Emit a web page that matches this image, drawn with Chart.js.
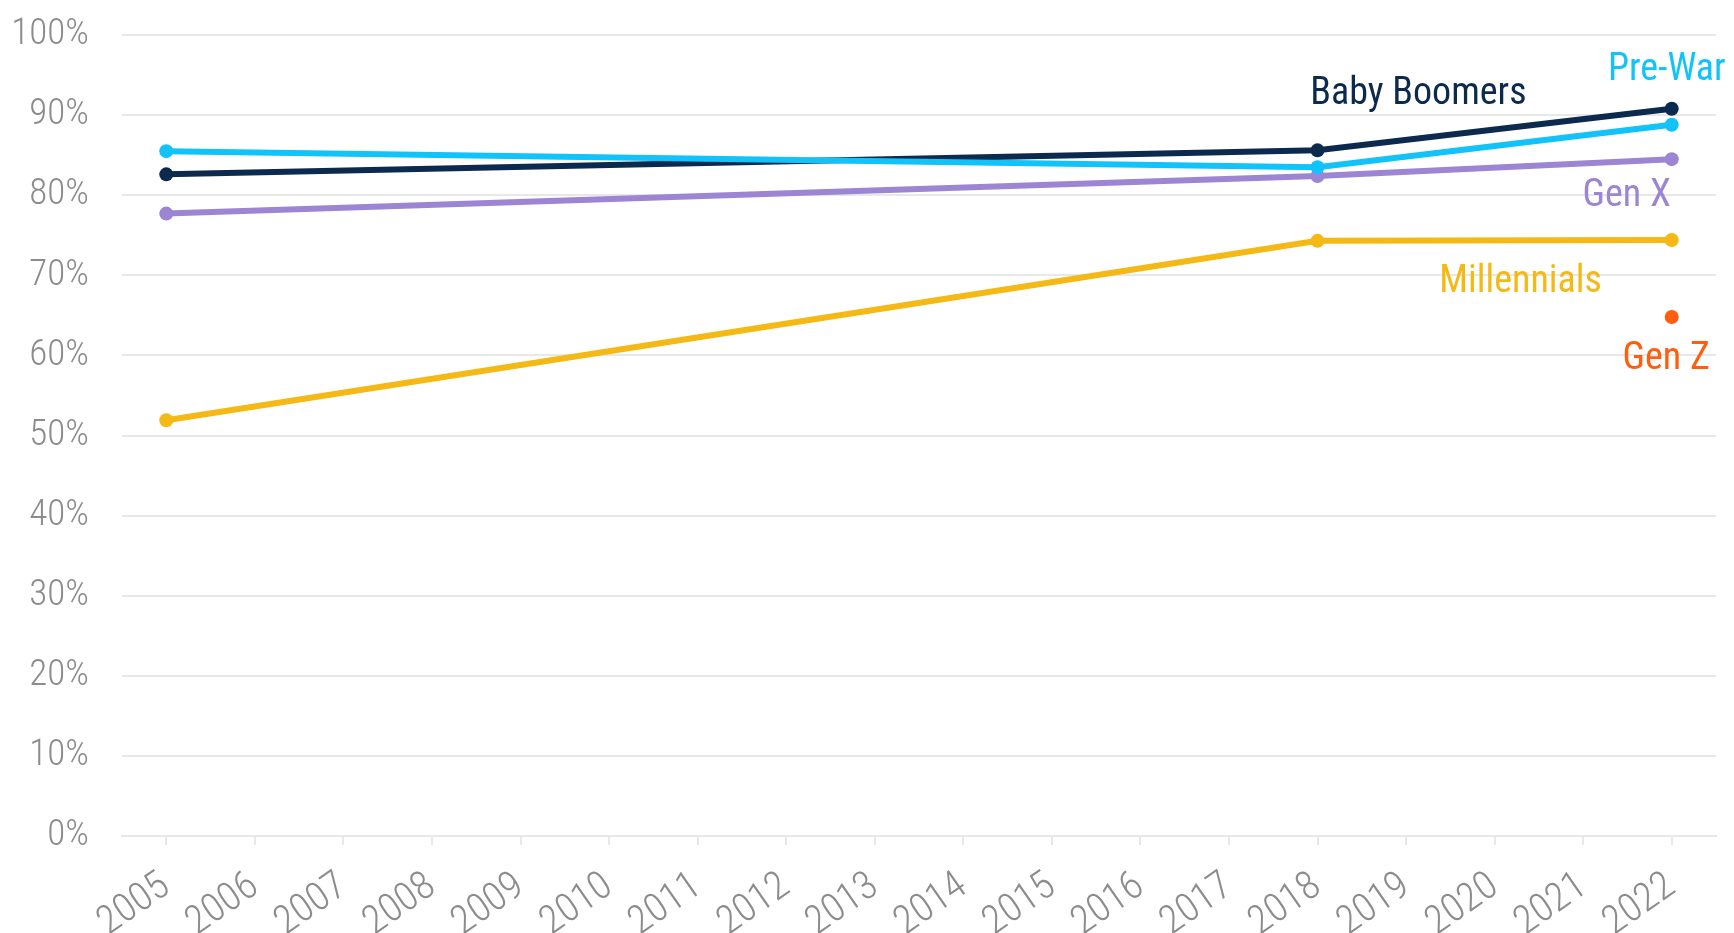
<!DOCTYPE html>
<html>
<head>
<meta charset="utf-8">
<script src="https://cdn.jsdelivr.net/npm/chart.js@4/dist/chart.umd.min.js"></script>
<style>
	html, body { margin: 0; padding: 0; background: #fff; }
	#wrap { width: 1734px; height: 933px; position: relative; }
</style>
</head>
<body>
<div id="wrap"><canvas id="myChart"></canvas></div>
<script>
const years = ['2005','2006','2007','2008','2009','2010','2011','2012','2013','2014','2015','2016','2017','2018','2019','2020','2021','2022'];

// survey years only: 2005, 2018, 2022
const preWar      = [85.5, null, null, null, null, null, null, null, null, null, null, null, null, 83.5, null, null, null, 88.8];
const babyBoomers = [82.6, null, null, null, null, null, null, null, null, null, null, null, null, 85.6, null, null, null, 90.8];
const genX        = [77.7, null, null, null, null, null, null, null, null, null, null, null, null, 82.4, null, null, null, 84.5];
const millennials = [51.9, null, null, null, null, null, null, null, null, null, null, null, null, 74.3, null, null, null, 74.4];
const genZ        = [null, null, null, null, null, null, null, null, null, null, null, null, null, null, null, null, null, 64.8];

const yTicks = [0, 10, 20, 30, 40, 50, 60, 70, 80, 90, 100];

// series name labels, placed in data space: [text, color, x index, y value, align]
const seriesLabels = [
	['Baby Boomers', '#0c2a4e', 15.36, 91.4, 'right'],
	['Pre-War',      '#12c3fa', 16.28, 94.35, 'left'],
	['Gen X',        '#9c85d3', 16.99, 78.6, 'right'],
	['Millennials',  '#f4b915', 16.21, 67.9, 'right'],
	['Gen Z',        '#ff5e0e', 17.43, 58.3, 'right']
];

const FONT = "'Roboto Condensed', 'DejaVu Sans Condensed', sans-serif";
const GRID = '#e8e8e8';
const TICK = '#8c8c8c';

function line(label, data, color, order) {
	return {
		label: label,
		data: data,
		borderColor: color,
		backgroundColor: color,
		borderWidth: 6,
		pointRadius: 7,
		pointHoverRadius: 7,
		pointBorderWidth: 0,
		spanGaps: true,
		tension: 0,
		order: order
	};
}

const labelPlugin = {
	id: 'seriesLabels',
	afterDatasetsDraw(chart) {
		const ctx = chart.ctx;
		const xs = chart.scales.x;
		const ys = chart.scales.y;
		ctx.save();
		ctx.font = '38px ' + FONT;
		ctx.textBaseline = 'alphabetic';
		seriesLabels.forEach(l => {
			const x0 = xs.getPixelForValue(0);
			const step = xs.getPixelForValue(1) - x0;
			ctx.fillStyle = l[1];
			ctx.textAlign = l[4];
			ctx.fillText(l[0], x0 + l[2] * step, ys.getPixelForValue(l[3]));
		});
		ctx.restore();
	}
};

const ctx = document.getElementById('myChart').getContext('2d');
const myChart = new Chart(ctx, {
	type: 'line',
	data: {
		labels: years,
		datasets: [
			line('Pre-War', preWar, '#12c3fa', 1),
			line('Baby Boomers', babyBoomers, '#0c2a4e', 2),
			line('Gen X', genX, '#9c85d3', 3),
			line('Millennials', millennials, '#f4b915', 4),
			line('Gen Z', genZ, '#ff5e0e', 0)
		]
	},
	options: {
		responsive: true,
		maintainAspectRatio: false,
		animation: false,
		layout: { padding: { top: 35, right: 18, left: 0, bottom: 0 } },
		plugins: {
			legend: { display: false },
			tooltip: { enabled: false }
		},
		scales: {
			x: {
				offset: true,
				grid: {
					offset: false,
					drawOnChartArea: false,
					drawTicks: true,
					tickLength: 9,
					color: GRID,
					lineWidth: 2
				},
				border: { display: true, color: GRID, width: 2 },
				ticks: {
					autoSkip: false,
					maxRotation: 35,
					minRotation: 35,
					color: TICK,
					padding: 18,
					font: { family: FONT, size: 40, weight: '300' }
				},
				afterFit(scale) {
					scale.height = 97;
					scale.paddingLeft = 0;
					scale.paddingRight = 0;
				}
			},
			y: {
				min: 0,
				max: 100,
				afterBuildTicks(scale) { scale.ticks = yTicks.map(v => ({ value: v })); },
				grid: { color: GRID, lineWidth: 2, drawTicks: false },
				border: { display: false },
				ticks: {
					color: TICK,
					padding: 33,
					font: { family: FONT, size: 37, weight: '300' },
					callback: v => v + '%'
				},
				afterFit(scale) {
					scale.width = 122;
					scale.paddingTop = 0;
					scale.paddingBottom = 0;
				}
			}
		}
	},
	plugins: [labelPlugin]
});
</script>
</body>
</html>
